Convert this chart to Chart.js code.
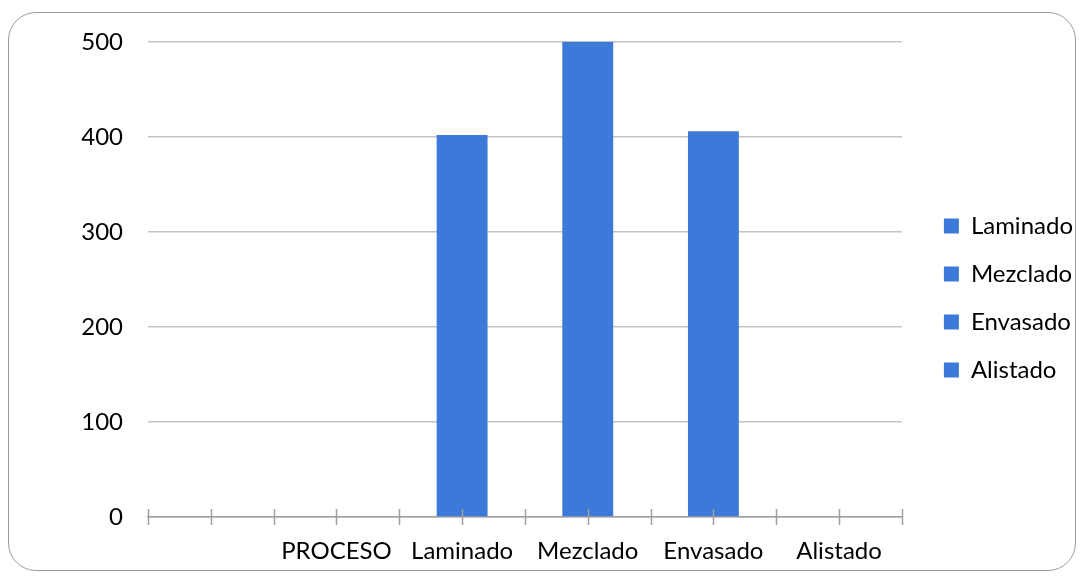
<!DOCTYPE html>
<html>
<head>
<meta charset="utf-8">
<script src="https://cdn.jsdelivr.net/npm/chart.js@4.4.1/dist/chart.umd.min.js"></script>
<style>
  html, body { margin: 0; padding: 0; background: #fff; }
  #wrap { position: relative; width: 1085px; height: 578px; }
  #frame {
    position: absolute; left: 8px; top: 12px; width: 1068px; height: 559px;
    border: 1px solid #9a9a9a; border-radius: 28px; box-sizing: border-box;
  }
  canvas { position: absolute; left: 0; top: 0; }
</style>
</head>
<body>
<div id="wrap">
  <div id="frame"></div>
  <canvas id="myChart" width="1085" height="578"></canvas>
</div>
<script>
const categories = ["", "PROCESO", "Laminado", "Mezclado", "Envasado", "Alistado"];
const values = [null, null, 402, 500, 406, null];
const legendNames = ["Laminado", "Mezclado", "Envasado", "Alistado"];
const yTicks = [0, 100, 200, 300, 400, 500];

const barColor = "#3c79d9";
const fontFamily = "Lato, 'Open Sans', sans-serif";

// cross tick marks on the category axis, at boundaries and centres
const crossTicks = {
  id: "crossTicks",
  afterDatasetsDraw(chart) {
    const x = chart.scales.x;
    const y0 = chart.scales.y.getPixelForValue(0);
    const c = chart.ctx;
    c.save();
    c.strokeStyle = "#a0a0a0";
    c.lineWidth = 1.5;
    c.beginPath();
    for (let k = 0; k <= categories.length * 2; k++) {
      const px = Math.round(x.getPixelForValue(k / 2 - 0.5)) + 0.5;
      c.moveTo(px, y0 - 8);
      c.lineTo(px, y0 + 8);
    }
    c.stroke();
    c.restore();
  }
};

const ctx = document.getElementById("myChart");

new Chart(ctx, {
  type: "bar",
  data: {
    labels: categories,
    datasets: [
      {
        label: "PROCESO",
        data: values,
        backgroundColor: barColor,
        borderWidth: 0,
        categoryPercentage: 1,
        barPercentage: 0.405,
      },
    ],
  },
  options: {
    responsive: false,
    animation: false,
    layout: { padding: { left: 81, right: 2, top: 30, bottom: 12 } },
    plugins: {
      tooltip: { enabled: false },
      legend: {
        position: "right",
        labels: {
          boxWidth: 15,
          boxHeight: 15,
          padding: 24,
          color: "#000",
          font: { family: fontFamily, size: 24 },
          generateLabels: () =>
            legendNames.map((n) => ({
              text: n,
              fillStyle: barColor,
              strokeStyle: barColor,
              lineWidth: 0,
              hidden: false,
            })),
        },
      },
    },
    scales: {
      x: {
        offset: true,
        grid: { display: false, drawTicks: false },
        border: { display: true, color: "#a0a0a0", width: 1.5 },
        ticks: {
          padding: 20,
          color: "#000",
          font: { family: fontFamily, size: 24 },
          maxRotation: 0,
          autoSkip: false,
        },
        afterFit: (s) => { s.height = 49; },
      },
      top: {
        type: "category",
        position: "top",
        display: true,
        grid: { display: false },
        border: { display: false },
        ticks: { display: false },
        afterFit: (s) => { s.height = 12; },
      },
      y: {
        min: yTicks[0],
        max: yTicks[yTicks.length - 1],
        afterBuildTicks: (s) => { s.ticks = yTicks.map((v) => ({ value: v })); },
        grid: { color: "#c4c4c4", lineWidth: 1.5, drawTicks: false },
        border: { display: false },
        ticks: {
          padding: 25,
          color: "#000",
          font: { family: fontFamily, size: 24 },
        },
        afterFit: (s) => { s.width = 67; },
      },
      gap: {
        position: "right",
        display: true,
        grid: { display: false },
        border: { display: false },
        ticks: { display: false },
        afterFit: (s) => { s.width = 18; },
      },
    },
  },
  plugins: [crossTicks],
});
</script>
</body>
</html>
